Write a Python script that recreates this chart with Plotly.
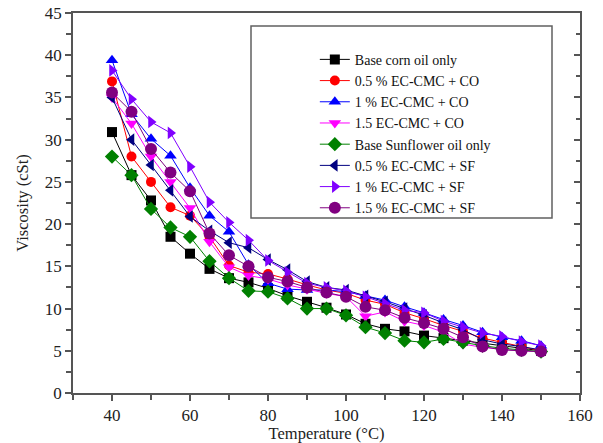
import plotly.graph_objects as go

temps = [40, 45, 50, 55, 60, 65, 70, 75, 80, 85, 90, 95, 100, 105, 110, 115, 120, 125, 130, 135, 140, 145, 150]

base_corn = [30.9, 25.8, 22.8, 18.5, 16.5, 14.7, 13.6, 13.1, 12.4, 11.5, 10.8, 10.1, 9.3, 8.2, 7.6, 7.3, 6.8, 6.5, 6.2, 5.9, 5.6, 5.3, 5.0]
co_05 = [36.9, 28.0, 25.0, 22.0, 21.0, 18.5, 15.1, 14.3, 14.1, 13.5, 12.8, 12.2, 11.8, 11.0, 10.5, 9.5, 8.8, 8.0, 7.3, 6.5, 6.0, 5.5, 5.0]
co_1 = [39.4, 33.0, 30.1, 28.1, 24.3, 21.0, 19.1, 15.2, 13.0, 12.3, 12.2, 12.2, 12.0, 11.5, 11.0, 10.2, 9.5, 8.7, 8.0, 7.2, 6.6, 6.2, 5.6]
co_15 = [35.0, 31.9, 28.0, 25.0, 21.9, 17.9, 14.9, 13.9, 13.5, 12.8, 12.3, 11.8, 11.4, 9.1, 9.6, 8.5, 8.0, 7.2, 5.8, 5.4, 5.2, 5.0, 4.9]
base_sf = [28.0, 25.8, 21.8, 19.6, 18.5, 15.6, 13.6, 12.1, 12.0, 11.2, 10.0, 10.0, 9.2, 7.8, 7.1, 6.2, 6.0, 6.4, 6.0, 5.6, 5.3, 5.1, 4.9]
sf_05 = [35.0, 30.0, 27.0, 24.0, 20.9, 19.2, 17.8, 17.2, 15.8, 14.6, 13.2, 12.5, 12.2, 11.5, 10.8, 10.0, 9.2, 8.3, 7.5, 6.3, 5.8, 5.5, 5.1]
sf_1 = [38.2, 34.8, 32.1, 30.8, 26.8, 22.6, 20.2, 18.1, 15.7, 14.3, 13.0, 12.5, 12.1, 11.4, 10.6, 9.8, 9.5, 8.5, 7.8, 7.1, 6.7, 6.1, 5.6]
sf_15 = [35.6, 33.3, 28.9, 26.1, 23.9, 18.9, 16.3, 15.0, 13.7, 13.2, 12.5, 11.9, 11.4, 10.2, 9.8, 8.9, 8.3, 7.6, 6.6, 5.5, 5.1, 5.0, 4.9]

names = ["Base corn oil only", "0.5 % EC-CMC + CO", "1 % EC-CMC + CO", "1.5 EC-CMC + CO",
         "Base Sunflower oil only", "0.5 % EC-CMC + SF", "1 % EC-CMC + SF", "1.5 % EC-CMC + SF"]
series = [base_corn, co_05, co_1, co_15, base_sf, sf_05, sf_1, sf_15]
colors = ["#000000", "#FF0000", "#0000FF", "#FF00FF", "#008000", "#000080", "#8000FF", "#800080"]
symbols = ["square", "circle", "triangle-up", "triangle-down", "diamond", "triangle-left", "triangle-right", "circle"]
sizes = [10, 10, 11, 11, 11, 11, 11, 12]

fig = go.Figure()
for n, s, c, sym, sz in zip(names, series, colors, symbols, sizes):
    fig.add_trace(go.Scatter(x=temps, y=s, name=n, mode="lines+markers",
                             line=dict(color=c, width=1),
                             marker=dict(symbol=sym, size=sz, color=c)))

font = "Liberation Serif, Times New Roman, serif"
axcol = "#555555"
fig.update_layout(
    width=603, height=443,
    margin=dict(l=73, r=23, t=13, b=50),
    paper_bgcolor="white", plot_bgcolor="white",
    font=dict(family=font, size=17, color="#222222"),
    showlegend=True,
    legend=dict(x=0.477, y=0.919, xanchor="left", yanchor="top",
                bgcolor="rgba(0,0,0,0)", borderwidth=0,
                font=dict(family=font, size=14, color="#111111"),
                tracegroupgap=0),
    xaxis=dict(range=[30, 160], tickvals=[40, 60, 80, 100, 120, 140, 160], automargin=False,
               ticks="outside", ticklen=6, tickwidth=1.5, tickcolor=axcol,
               minor=dict(tickvals=[30, 50, 70, 90, 110, 130, 150], ticks="outside", ticklen=5, tickcolor=axcol, tickwidth=1.5),
               showline=True, linecolor=axcol, linewidth=1.5, mirror=True,
               showgrid=False, zeroline=False,
               title=dict(text="Temperature (°C)", font=dict(family=font, size=16.5), standoff=2)),
    yaxis=dict(range=[0, 45], dtick=5, ticks="outside", ticklen=6, tickwidth=1.5, tickcolor=axcol, automargin=False,
               minor=dict(dtick=2.5, ticks="outside", ticklen=5, tickcolor=axcol, tickwidth=1.5),
               showline=True, linecolor=axcol, linewidth=1.5, mirror=True,
               showgrid=False, zeroline=False,
               title=dict(text="Viscosity (cSt)", font=dict(family=font, size=16.5), standoff=12)),
    yaxis2=dict(range=[0, 45], dtick=5, overlaying="y", side="right", anchor="x", automargin=False,
                ticks="inside", ticklen=6, tickwidth=1.5, tickcolor=axcol,
                minor=dict(dtick=2.5, ticks="inside", ticklen=4, tickcolor=axcol, tickwidth=1.5),
                showticklabels=False, showgrid=False, zeroline=False, showline=False),
    shapes=[dict(type="rect", xref="paper", yref="paper",
                 x0=(251 - 73) / 507, x1=(552 - 73) / 507,
                 y0=(393 - 218) / 380, y1=(393 - 26) / 380,
                 line=dict(color="#606060", width=1.5), fillcolor="rgba(0,0,0,0)")],
)
fig.add_trace(go.Scatter(x=[None], y=[None], yaxis="y2", showlegend=False, hoverinfo="skip"))

fig.write_html("out.html")
